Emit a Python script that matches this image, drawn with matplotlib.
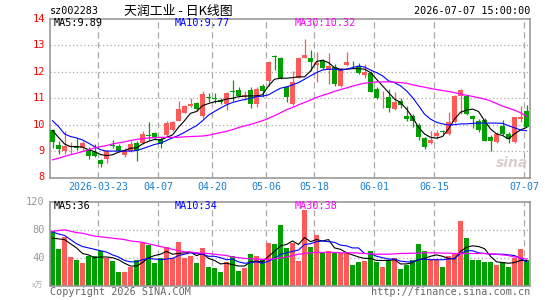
import numpy as np
import pandas as pd
import matplotlib
matplotlib.use('Agg')
import matplotlib.pyplot as plt

# trading days shown (holidays skipped)
holidays = ['2026-04-06', '2026-05-01', '2026-05-04', '2026-05-05', '2026-06-19']
dates = pd.bdate_range('2026-03-11', '2026-07-07', freq='C', holidays=holidays)

opens = [9.78, 9.24, 8.99, 9.15, 9.18, 9.12, 9.09, 8.96, 8.65, 8.71,
         9.23, 9.21, 8.84, 9.02, 9.31, 9.31, 9.60, 9.67, 9.46, 9.59,
         9.80, 10.15, 10.46, 10.71, 10.81, 10.34, 11.02, 11.00, 10.94, 10.78,
         11.27, 11.32, 11.05, 11.32, 10.78, 11.47, 11.66, 12.58, 12.54, 11.41,
         10.78, 11.78, 12.54, 12.54, 12.27, 12.41, 12.06, 12.18, 11.47, 12.26,
         12.30, 12.22, 11.88, 11.97, 11.34, 11.03, 11.05, 10.59, 10.88, 10.34,
         10.34, 10.00, 9.50, 9.30, 9.58, 9.75, 9.65, 10.09, 11.09, 11.09,
         10.32, 10.15, 10.18, 9.52, 9.34, 9.96, 9.65, 9.34, 10.22, 10.53]
highs = [9.85, 9.37, 9.75, 9.33, 9.49, 9.40, 9.15, 9.27, 8.71, 9.05,
         9.42, 9.27, 9.12, 9.37, 9.37, 9.77, 10.11, 9.71, 9.52, 10.12,
         10.12, 10.90, 10.74, 11.02, 10.84, 11.27, 11.21, 11.18, 11.00, 11.22,
         11.68, 11.41, 11.28, 11.41, 11.41, 11.53, 12.41, 12.62, 12.56, 11.47,
         12.03, 12.56, 13.26, 12.81, 12.76, 12.47, 12.72, 12.28, 12.16, 12.75,
         12.41, 12.35, 12.28, 12.03, 11.41, 11.28, 11.34, 11.24, 11.00, 10.72,
         10.40, 10.05, 9.52, 9.77, 9.80, 9.79, 10.47, 11.13, 11.34, 11.13,
         10.37, 10.21, 10.24, 9.59, 9.71, 10.18, 9.71, 10.28, 10.72, 10.74]
lows = [9.12, 8.90, 8.88, 8.88, 9.03, 9.02, 8.69, 8.77, 8.40, 8.55,
        9.12, 8.96, 8.77, 8.96, 8.62, 9.25, 9.42, 9.46, 9.12, 9.56,
        9.77, 10.12, 10.44, 10.67, 10.50, 10.27, 10.84, 10.82, 10.78, 10.55,
        10.90, 11.05, 10.93, 10.63, 10.68, 11.06, 11.47, 12.06, 11.72, 10.87,
        10.75, 11.76, 12.51, 12.03, 11.63, 12.10, 11.53, 11.47, 11.44, 12.22,
        12.16, 11.91, 11.76, 11.22, 10.97, 10.63, 10.47, 10.55, 10.63, 10.13,
        9.93, 9.42, 9.06, 9.25, 9.46, 9.65, 9.62, 10.05, 10.40, 10.38,
        9.88, 9.71, 9.37, 9.02, 9.30, 9.61, 9.30, 9.30, 10.09, 9.90]
closes = [9.34, 9.06, 9.21, 9.21, 9.13, 9.30, 8.80, 8.80, 8.50, 8.99,
          9.20, 9.02, 9.05, 9.27, 9.02, 9.65, 9.57, 9.52, 9.27, 10.06,
          10.09, 10.59, 10.69, 10.77, 10.59, 11.15, 11.00, 10.97, 10.84, 11.18,
          11.24, 11.09, 11.13, 10.80, 11.34, 11.26, 12.37, 12.55, 11.78, 11.03,
          11.62, 12.54, 12.64, 12.39, 12.33, 12.16, 12.22, 11.53, 12.10, 12.38,
          12.28, 11.95, 12.01, 11.22, 11.00, 11.06, 10.63, 10.87, 10.74, 10.21,
          10.15, 9.52, 9.15, 9.42, 9.67, 9.72, 10.09, 11.09, 11.32, 10.40,
          10.22, 9.78, 9.37, 9.40, 9.65, 9.65, 9.44, 10.28, 10.30, 9.90]

ma5 = [9.78, 9.52, 9.27, 9.17, 9.17, 9.15, 9.05, 8.98, 8.87, 8.83,
       8.86, 8.96, 9.02, 9.11, 9.12, 9.27, 9.37, 9.44, 9.42, 9.52,
       9.61, 9.90, 10.15, 10.43, 10.50, 10.72, 10.80, 10.87, 10.90, 10.97,
       11.00, 11.06, 11.08, 11.09, 11.09, 11.13, 11.47, 11.72, 11.76, 11.76,
       11.78, 11.81, 11.81, 12.03, 12.39, 12.44, 12.35, 12.16, 12.10, 12.10,
       12.12, 12.12, 12.10, 11.97, 11.72, 11.47, 11.22, 10.97, 10.84, 10.59,
       10.28, 9.90, 9.65, 9.52, 9.49, 9.55, 9.84, 10.21, 10.47, 10.55,
       10.59, 10.50, 10.15, 9.84, 9.65, 9.59, 9.46, 9.65, 9.80, 9.89]
ma10 = [10.15, 9.93, 9.65, 9.55, 9.50, 9.42, 9.30, 9.17, 9.05, 9.00,
        9.00, 9.00, 9.00, 9.00, 9.02, 9.09, 9.17, 9.25, 9.30, 9.40,
        9.50, 9.59, 9.71, 9.84, 9.96, 10.15, 10.36, 10.50, 10.63, 10.75,
        10.84, 10.90, 10.95, 11.00, 11.06, 11.08, 11.13, 11.26, 11.38, 11.43,
        11.51, 11.59, 11.72, 11.85, 11.97, 12.07, 12.10, 12.10, 12.06, 12.10,
        12.16, 12.22, 12.18, 12.07, 11.97, 11.85, 11.66, 11.59, 11.47, 11.28,
        11.03, 10.72, 10.40, 10.21, 10.09, 10.03, 9.99, 10.00, 10.03, 10.03,
        10.05, 10.06, 10.06, 10.06, 10.06, 10.05, 9.96, 9.88, 9.80, 9.77]
ma30 = [8.67, 8.73, 8.80, 8.86, 8.92, 8.98, 9.05, 9.12, 9.17, 9.21,
        9.27, 9.31, 9.35, 9.40, 9.44, 9.47, 9.50, 9.51, 9.52, 9.52,
        9.52, 9.52, 9.54, 9.55, 9.56, 9.57, 9.60, 9.65, 9.70, 9.75,
        9.81, 9.89, 9.95, 10.01, 10.08, 10.15, 10.24, 10.34, 10.45, 10.57,
        10.65, 10.75, 10.84, 10.93, 11.03, 11.11, 11.18, 11.26, 11.33, 11.39,
        11.46, 11.52, 11.57, 11.59, 11.62, 11.62, 11.62, 11.61, 11.59, 11.57,
        11.51, 11.46, 11.42, 11.37, 11.33, 11.29, 11.26, 11.21, 11.16, 11.11,
        11.07, 11.02, 10.97, 10.90, 10.80, 10.70, 10.63, 10.55, 10.45, 10.32]

# volume, 10k lots
volume = [79, 52, 70, 41, 37, 32, 42, 42, 50, 39,
          35, 19, 19, 26, 37, 61, 58, 32, 39, 56,
          39, 62, 39, 43, 32, 54, 27, 25, 19, 34,
          43, 21, 25, 45, 42, 36, 61, 59, 87, 54,
          61, 35, 109, 55, 72, 47, 49, 47, 47, 47,
          30, 34, 35, 49, 34, 26, 35, 39, 23, 30,
          36, 59, 49, 38, 38, 27, 42, 46, 92, 68,
          37, 36, 34, 34, 29, 34, 27, 39, 52, 36]
vma5 = [68, 67, 66, 60, 54, 46, 44, 40, 41, 41,
        40, 37, 32, 28, 28, 33, 40, 43, 45, 49,
        45, 46, 47, 48, 43, 46, 39, 36, 31, 32,
        30, 28, 28, 34, 35, 34, 42, 49, 57, 59,
        64, 59, 69, 63, 66, 64, 66, 54, 52, 47,
        44, 41, 39, 39, 36, 36, 36, 37, 31, 31,
        33, 37, 39, 42, 44, 42, 39, 38, 49, 55,
        57, 56, 53, 42, 34, 33, 32, 33, 36, 36]
vma10 = [77, 74, 72, 66, 60, 56, 54, 52, 50, 48,
         44, 41, 36, 34, 34, 37, 39, 38, 37, 38,
         39, 43, 45, 47, 46, 45, 42, 42, 40, 37,
         38, 34, 32, 33, 34, 32, 35, 39, 45, 47,
         49, 51, 59, 60, 63, 64, 63, 62, 58, 57,
         54, 54, 46, 46, 42, 40, 38, 38, 35, 34,
         34, 37, 38, 37, 37, 37, 38, 39, 46, 50,
         50, 47, 46, 45, 45, 45, 44, 43, 39, 34]
vma30 = [78, 79, 80, 78, 76, 75, 73, 71, 70, 69,
         68, 67, 66, 64, 63, 62, 60, 58, 56, 54,
         52, 50, 48.5, 48, 47, 46.5, 46, 45, 44, 43,
         41, 40, 39, 38.5, 38, 37.5, 37.5, 38.5, 39.5, 41,
         43, 45, 46, 47, 47.5, 47.5, 47.5, 47.5, 47, 47,
         47, 46.5, 46, 45.5, 45, 45, 45, 45.5, 46, 46,
         46.5, 46.5, 47, 47, 47, 46.5, 46.5, 46, 46, 46,
         46, 46, 46, 45.5, 45, 44, 43, 41, 40, 38]

tick_dates = ['2026-03-23', '2026-04-07', '2026-04-20', '2026-05-06',
              '2026-05-18', '2026-06-01', '2026-06-15', '2026-07-07']

RED = '#ff5a5a'
GREEN = '#00a000'
GRID = '#aaaaaa'
MONO = 'DejaVu Sans Mono'
CJK = ['Noto Sans CJK SC', 'DejaVu Sans']

W, H = 545, 300
fig = plt.figure(figsize=(W / 100, H / 100), dpi=100)


def px(x, y):
    return x / W, 1 - y / H


x = np.arange(len(dates))
up = np.array(closes) >= np.array(opens)
cols = np.where(up, RED, GREEN)
xlim = (-0.42, len(dates) - 0.42)
tick_pos = [list(dates.strftime('%Y-%m-%d')).index(d) - 0.4 for d in tick_dates]

ax = fig.add_axes([50 / W, 1 - 177.5 / H, 480 / W, 158.5 / H])
vax = fig.add_axes([50 / W, 1 - 285.5 / H, 480 / W, 83.5 / H])

for a in (ax, vax):
    a.set_xlim(*xlim)
    for s in a.spines.values():
        s.set_color('#999999')
        s.set_linewidth(1.2)
    a.set_xticks([])
    a.set_yticks([])
    for t in tick_pos:
        a.axvline(t, color=GRID, lw=0.9, ls=(0, (5, 3)), zorder=0)

ax.set_ylim(8, 14)
for p in range(9, 14):
    ax.axhline(p, color=GRID, lw=0.9, ls=(0, (1, 2)), zorder=0)
vax.set_ylim(0, 120)
for v in (40, 80):
    vax.axhline(v, color=GRID, lw=0.9, ls=(0, (1, 2)), zorder=0)

# candles
ax.vlines(x, lows, highs, colors=cols, lw=0.9, zorder=2)
body_lo = np.minimum(opens, closes)
body_h = np.maximum(np.abs(np.array(closes) - np.array(opens)), 0.035)
ax.bar(x, body_h, bottom=body_lo, width=0.82, color=cols, lw=0, zorder=3)

ax.plot(x, ma5, color='black', lw=0.8, zorder=4)
ax.plot(x, ma10, color='#0000ff', lw=0.8, zorder=4)
ax.plot(x, ma30, color='#ff00ff', lw=0.9, zorder=4)

vax.bar(x, volume, width=0.82, color=cols, lw=0, zorder=2)
vax.plot(x, vma5, color='black', lw=0.8, zorder=4)
vax.plot(x, vma10, color='#0000ff', lw=0.8, zorder=4)
vax.plot(x, vma30, color='#ff00ff', lw=0.9, zorder=4)

# price labels
for p in range(8, 15):
    ax.text(-1.3, p, str(p), color='red', fontsize=7.5, family=MONO,
            ha='right', va='center')
for v in (40, 80, 120):
    vax.text(-1.3, v, str(v), color='#999999', fontsize=7.5, family=MONO,
             ha='right', va='center')
fig.text(*px(43, 286), 'x万', color='#aaaaaa', fontsize=5.5, family=CJK,
         ha='right', va='center')

# date labels
for t, d in zip(tick_pos, tick_dates):
    lab = d if d == tick_dates[0] else d[5:]
    ax.text(t, 7.65, lab, color='#1a7fcf', fontsize=7.2, family=MONO,
            ha='center', va='center')

# header
fig.text(*px(50, 11), 'sz002283', fontsize=7.3, family=MONO, va='center')
fig.text(*px(178, 11), '天润工业 - 日K线图', fontsize=9.3, family=CJK,
         ha='center', va='center')
fig.text(*px(530, 11), '2026-07-07 15:00:00', fontsize=7.3, family=MONO,
         ha='right', va='center')

fig.text(*px(54, 23.5), 'MA5:9.89', fontsize=7.3, family=MONO, va='center')
fig.text(*px(175, 23.5), 'MA10:9.77', color='#0000ff', fontsize=7.3,
         family=MONO, va='center')
fig.text(*px(295, 23.5), 'MA30:10.32', color='#ff00ff', fontsize=7.3,
         family=MONO, va='center')
fig.text(*px(54, 206), 'MA5:36', fontsize=7.3, family=MONO, va='center')
fig.text(*px(175, 206), 'MA10:34', color='#0000ff', fontsize=7.3,
         family=MONO, va='center')
fig.text(*px(295, 206), 'MA30:38', color='#ff00ff', fontsize=7.3,
         family=MONO, va='center')

# watermark
fig.text(*px(512, 163), 'sina', color='#d9c8c8', fontsize=10, fontweight='bold',
         style='italic', ha='center', va='center', alpha=0.9)

# footer
fig.text(*px(50, 292), 'Copyright 2026 SINA.COM', color='#666666', fontsize=7.3,
         family=MONO, va='center')
fig.text(*px(530, 292), 'http://finance.sina.com.cn', color='#666666',
         fontsize=7.3, family=MONO, ha='right', va='center')

plt.savefig('out.png', dpi=100)
